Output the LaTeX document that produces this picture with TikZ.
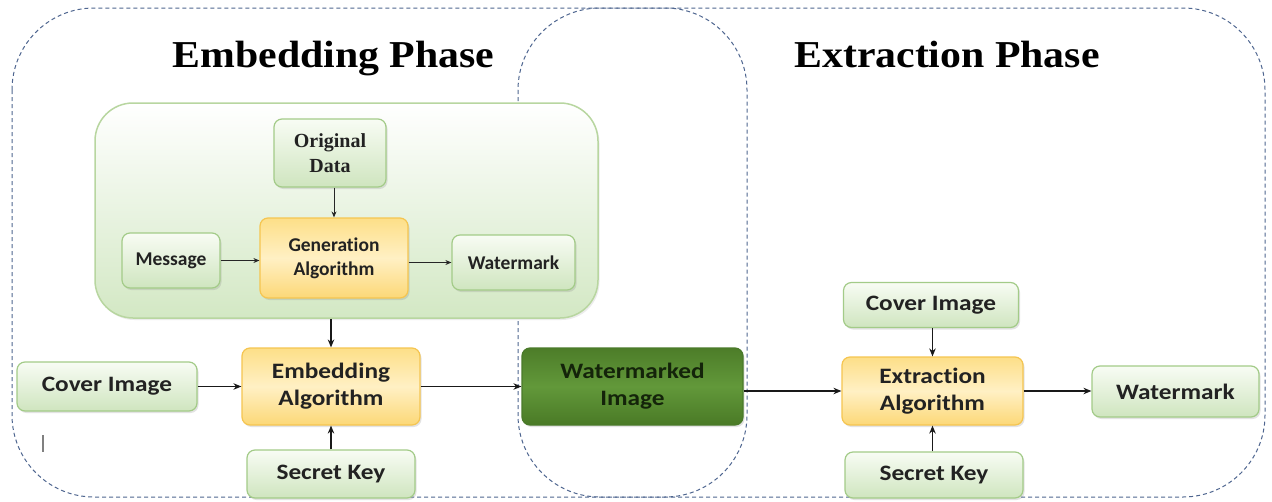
\documentclass[tikz,border=0pt]{standalone}
\usepackage{fontspec}
\usepackage{graphicx}
\setmainfont{Liberation Serif}
\newfontfamily\carl[Ligatures=NoCommon]{Carlito}
\usetikzlibrary{shadows,arrows.meta}
\definecolor{dashc}{HTML}{4F6690}
\definecolor{gdraw}{HTML}{A3CB88}
\definecolor{gtop}{HTML}{F8FCF4}
\definecolor{gbot}{HTML}{CFE5BF}
\definecolor{odraw}{HTML}{F5C550}
\definecolor{otop}{HTML}{FDDF88}
\definecolor{omid}{HTML}{FFF0C4}
\definecolor{obot}{HTML}{FCD877}
\definecolor{ddraw}{HTML}{4A7A2A}
\definecolor{dtop}{HTML}{4D7D29}
\definecolor{dmid}{HTML}{62983A}
\definecolor{dbot}{HTML}{4A7A26}
\definecolor{cdraw}{HTML}{B8D6A0}
\definecolor{cbot}{HTML}{D3E8C4}
\definecolor{txt}{HTML}{222222}
\definecolor{dtxt}{HTML}{14240A}
\newcommand{\sx}[1]{\scalebox{1.15}[1]{#1}}
\tikzset{
  x=1pt, y=-1pt,
  phase/.style={draw=dashc, line width=1pt, dash pattern=on 4pt off 3pt, rounded corners=82pt},
  title/.style={font=\fontsize{38}{44}\selectfont\bfseries, anchor=base, text=black},
  boxbase/.style={rounded corners=8pt, line width=1.2pt, align=center, inner sep=0pt,
    text=txt, font=\carl\bfseries\fontsize{22}{27}\selectfont,
    drop shadow={opacity=0.22, shadow xshift=1.5pt, shadow yshift=-2pt}},
  gbox/.style={boxbase, draw=gdraw, top color=gtop, bottom color=gbot},
  obox/.style={boxbase, draw=odraw, top color=otop, bottom color=obot, middle color=omid},
  dbox/.style={boxbase, draw=ddraw, top color=dtop, bottom color=dbot, middle color=dmid, text=dtxt},
  inner/.style={font=\carl\bfseries\fontsize{19.5}{24}\selectfont},
  container/.style={rounded corners=38pt, draw=cdraw, line width=1.5pt, top color=white, bottom color=cbot,
    inner sep=0pt, drop shadow={opacity=0.15, shadow xshift=1.5pt, shadow yshift=-2pt}},
  thin/.style={-{Stealth[length=6pt,width=5pt]}, line width=1pt, draw=black!85},
  thick/.style={-{Stealth[length=8pt,width=6.5pt]}, line width=1.9pt, draw=black!90},
}
\begin{document}
\begin{tikzpicture}
\useasboundingbox (0,0) rectangle (1272,501);
\fill[white] (0,0) rectangle (1272,501);
% phase frames
\draw[phase] (12,8) rectangle (747,497);
\draw[phase] (518,8) rectangle (1265,497);
% titles
\node[title] (t1) at (333.5,67) {\scalebox{1.1}[1]{Embedding Phase}};
\node[title] (t2) at (947,67) {\scalebox{1.1}[1]{Extraction Phase}};
% container
\node[container, minimum width=503pt, minimum height=215pt] (grp) at (346.5,210.5) {};
% inner boxes
\node[gbox, minimum width=112pt, minimum height=68pt, font=\fontsize{20}{25}\selectfont\bfseries] (od) at (330,153) {Original\\Data};
\node[gbox, inner, minimum width=98pt, minimum height=55pt] (msg) at (171,260.5) {Message};
\node[obox, inner, minimum width=148pt, minimum height=80pt] (gen) at (334,258) {Generation\\Algorithm};
\node[gbox, inner, minimum width=123pt, minimum height=55pt] (wmi) at (513.5,262.5) {Watermark};
% outer boxes
\node[obox, minimum width=178pt, minimum height=77pt] (emb) at (331,386.5) {\sx{Embedding}\\\sx{Algorithm}};
\node[gbox, minimum width=180pt, minimum height=49pt] (cov) at (107,386.5) {\sx{Cover Image}};
\node[gbox, minimum width=168pt, minimum height=48pt] (skl) at (331,474) {\sx{Secret Key}};
\node[dbox, minimum width=221pt, minimum height=77pt] (wmd) at (632.5,386.5) {\sx{Watermarked}\\\sx{Image}};
\node[gbox, minimum width=175pt, minimum height=45pt] (covr) at (931,305) {\sx{Cover Image}};
\node[obox, minimum width=181pt, minimum height=68pt] (ext) at (932.5,391) {\sx{Extraction}\\\sx{Algorithm}};
\node[gbox, minimum width=178pt, minimum height=46pt] (skr) at (934,475) {\sx{Secret Key}};
\node[gbox, minimum width=167pt, minimum height=51pt] (wmr) at (1175.5,391.5) {\sx{Watermark}};
% stray mark
\coordinate (m1) at (43,435);
\coordinate (m2) at (43,452);
\draw[gray, line width=1.2pt] (m1) -- (m2);
% connectors
\draw[thin] (od.south -| gen.north) -- (gen.north);
\draw[thin] (msg.east) -- (msg.east -| gen.west);
\draw[thin] (gen.east |- wmi.west) -- (wmi.west);
\draw[thick] (grp.south -| emb.north) -- (emb.north);
\draw[thick] (cov.east) -- (cov.east -| emb.west);
\draw[thick] (skl.north) -- (emb.south);
\draw[thick] (emb.east) -- (emb.east -| wmd.west);
\draw[thick] (wmd.east |- ext.west) -- (ext.west);
\draw[thick] (covr.south -| ext.north) -- (ext.north);
\draw[thick] (skr.north -| ext.south) -- (ext.south);
\draw[thick] (ext.east) -- (ext.east -| wmr.west);
\end{tikzpicture}
\end{document}
